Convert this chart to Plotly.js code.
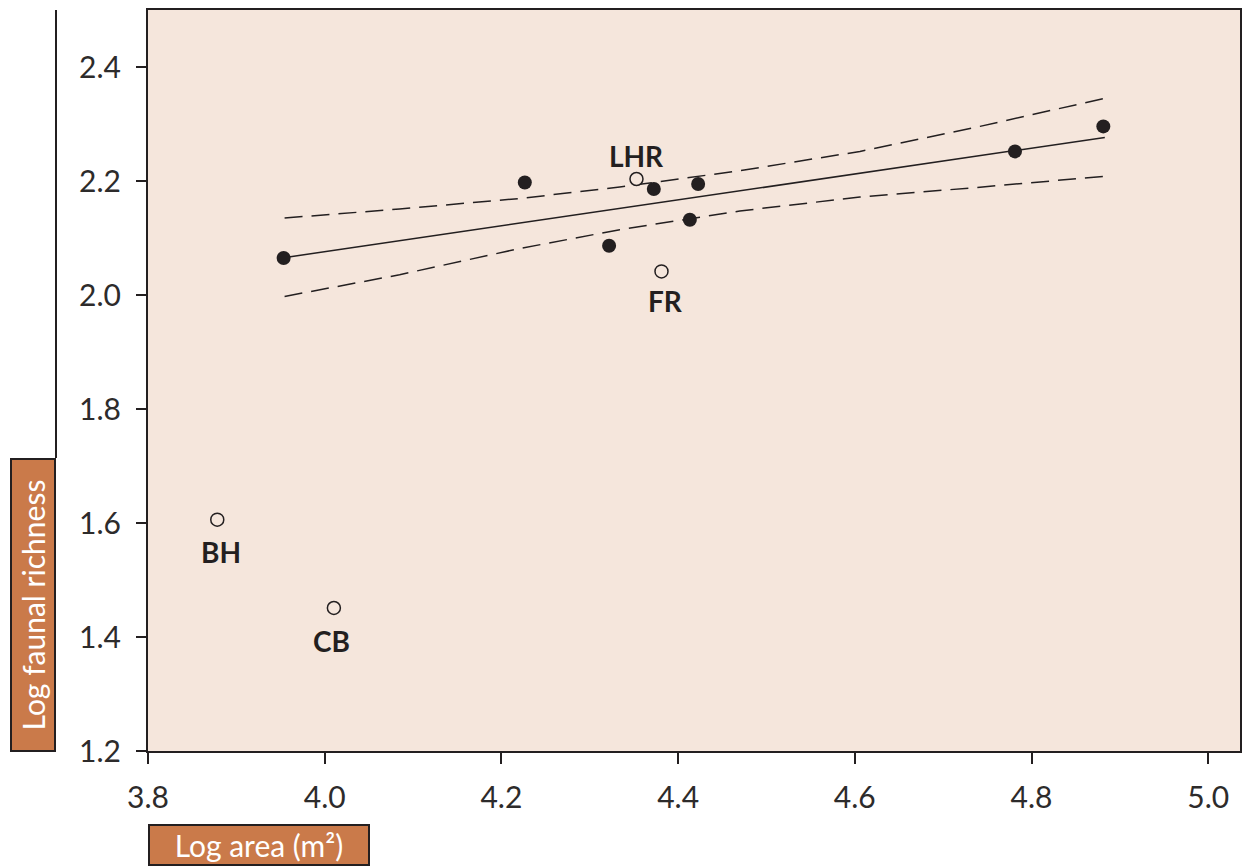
<!DOCTYPE html>
<html>
<head>
<meta charset="utf-8">
<script src="https://cdn.plot.ly/plotly-3.0.1.min.js"></script>
<style>html,body{margin:0;padding:0;background:#fff;}#chart{width:1244px;height:866px;}</style>
</head>
<body>
<div id="chart"></div>
<script>
// Filled sites (used in regression)
var filledX = [3.9535, 4.2265, 4.3219, 4.3725, 4.4133, 4.4227, 4.7813, 4.8813];
var filledY = [2.0649, 2.1975, 2.0865, 2.1860, 2.1321, 2.1947, 2.2519, 2.2958];

// Open (labelled) sites
var openLabels = ["LHR", "FR", "BH", "CB"];
var openX = [4.3529, 4.3812, 3.8784, 4.0104];
var openY = [2.2035, 2.0414, 1.6058, 1.4509];

// Regression line
var fitX = [3.9535, 4.883];
var fitY = [2.0654, 2.2765];

// Confidence bands
var bandX = [3.9546, 4.0848, 4.2208, 4.3340, 4.4699, 4.6058, 4.7417, 4.8810];
var upperY = [2.1351, 2.1509, 2.1693, 2.1895, 2.2181, 2.2519, 2.2958, 2.3444];
var lowerY = [1.9975, 2.0356, 2.0816, 2.1146, 2.1474, 2.1719, 2.1891, 2.2081];

// Ticks
var xTicks = [3.8, 4.0, 4.2, 4.4, 4.6, 4.8, 5.0];
var xTickText = ["3.8", "4.0", "4.2", "4.4", "4.6", "4.8", "5.0"];
var yTicks = [1.2, 1.4, 1.6, 1.8, 2.0, 2.2, 2.4];
var yTickText = ["1.2", "1.4", "1.6", "1.8", "2.0", "2.2", "2.4"];

var xTitle = "Log area (m²)";
var yTitle = "Log faunal richness";

var ink = "#231f20";
var bg = "#F5E6DC";
var orange = "#CA7A4A";
var tickFont = {family: "Lato, 'Open Sans', sans-serif", size: 30, color: "#2d2b2b"};
var labelFont = {family: "Lato, 'Open Sans', sans-serif", size: 28, color: ink, weight: 700};

var traces = [
  {x: bandX, y: upperY, mode: "lines", line: {color: ink, width: 1.5, dash: "18px,9px"}, hoverinfo: "skip"},
  {x: bandX, y: lowerY, mode: "lines", line: {color: ink, width: 1.5, dash: "18px,9px"}, hoverinfo: "skip"},
  {x: fitX, y: fitY, mode: "lines", line: {color: ink, width: 1.5}, hoverinfo: "skip"},
  {x: filledX, y: filledY, mode: "markers", marker: {symbol: "circle", size: 14, color: ink, line: {width: 0}}},
  {x: openX, y: openY, mode: "markers", marker: {symbol: "circle", size: 13, color: bg, line: {width: 1.5, color: ink}}}
];

var labelShift = {"LHR": 23, "FR": -30, "BH": -32, "CB": -33};
var labelXShift = {"LHR": 0, "FR": 4, "BH": 4, "CB": -2};
var annotations = openLabels.map(function (t, i) {
  return {x: openX[i], y: openY[i], xref: "x", yref: "y", text: t, showarrow: false,
          yshift: labelShift[t], xshift: labelXShift[t], font: labelFont};
});

// axis title boxes
annotations.push({
  xref: "paper", yref: "paper", x: (33 - 148) / 1092, y: (751 - 605) / 741,
  text: yTitle, textangle: -90, showarrow: false,
  font: {family: "Lato, 'Open Sans', sans-serif", size: 30, color: "#ffffff"},
  bgcolor: orange, bordercolor: ink, borderwidth: 2, borderpad: 0,
  width: 290, height: 42, xanchor: "center", yanchor: "middle"
});
annotations.push({
  xref: "paper", yref: "paper", x: (259 - 148) / 1092, y: (751 - 845) / 741,
  text: xTitle, showarrow: false,
  font: {family: "Lato, 'Open Sans', sans-serif", size: 30, color: "#ffffff"},
  bgcolor: orange, bordercolor: ink, borderwidth: 2, borderpad: 0,
  width: 218, height: 38, xanchor: "center", yanchor: "middle"
});

var layout = {
  width: 1244, height: 866,
  margin: {l: 148, r: 4, t: 10, b: 115},
  paper_bgcolor: "#ffffff",
  plot_bgcolor: bg,
  showlegend: false,
  hovermode: false,
  xaxis: {
    range: [3.8, 5.036], tickvals: xTicks, ticktext: xTickText,
    ticks: "outside", ticklen: 11, tickwidth: 2, tickcolor: ink,
    showline: true, linewidth: 2, linecolor: ink, mirror: true,
    showgrid: false, zeroline: false, tickfont: tickFont, ticklabelstandoff: 8
  },
  yaxis: {
    range: [1.2, 2.5], tickvals: yTicks, ticktext: yTickText,
    ticks: "outside", ticklen: 10, tickwidth: 2, tickcolor: ink,
    showline: true, linewidth: 2, linecolor: ink, mirror: true,
    showgrid: false, zeroline: false, tickfont: tickFont, ticklabelstandoff: 9
  },
  shapes: [
    {type: "line", xref: "paper", yref: "paper",
     x0: (56 - 148) / 1092, x1: (56 - 148) / 1092,
     y0: (751 - 458) / 741, y1: 1.0, line: {color: ink, width: 2}}
  ],
  annotations: annotations
};

Plotly.newPlot("chart", traces, layout, {displayModeBar: false, staticPlot: true});
</script>
</body>
</html>
